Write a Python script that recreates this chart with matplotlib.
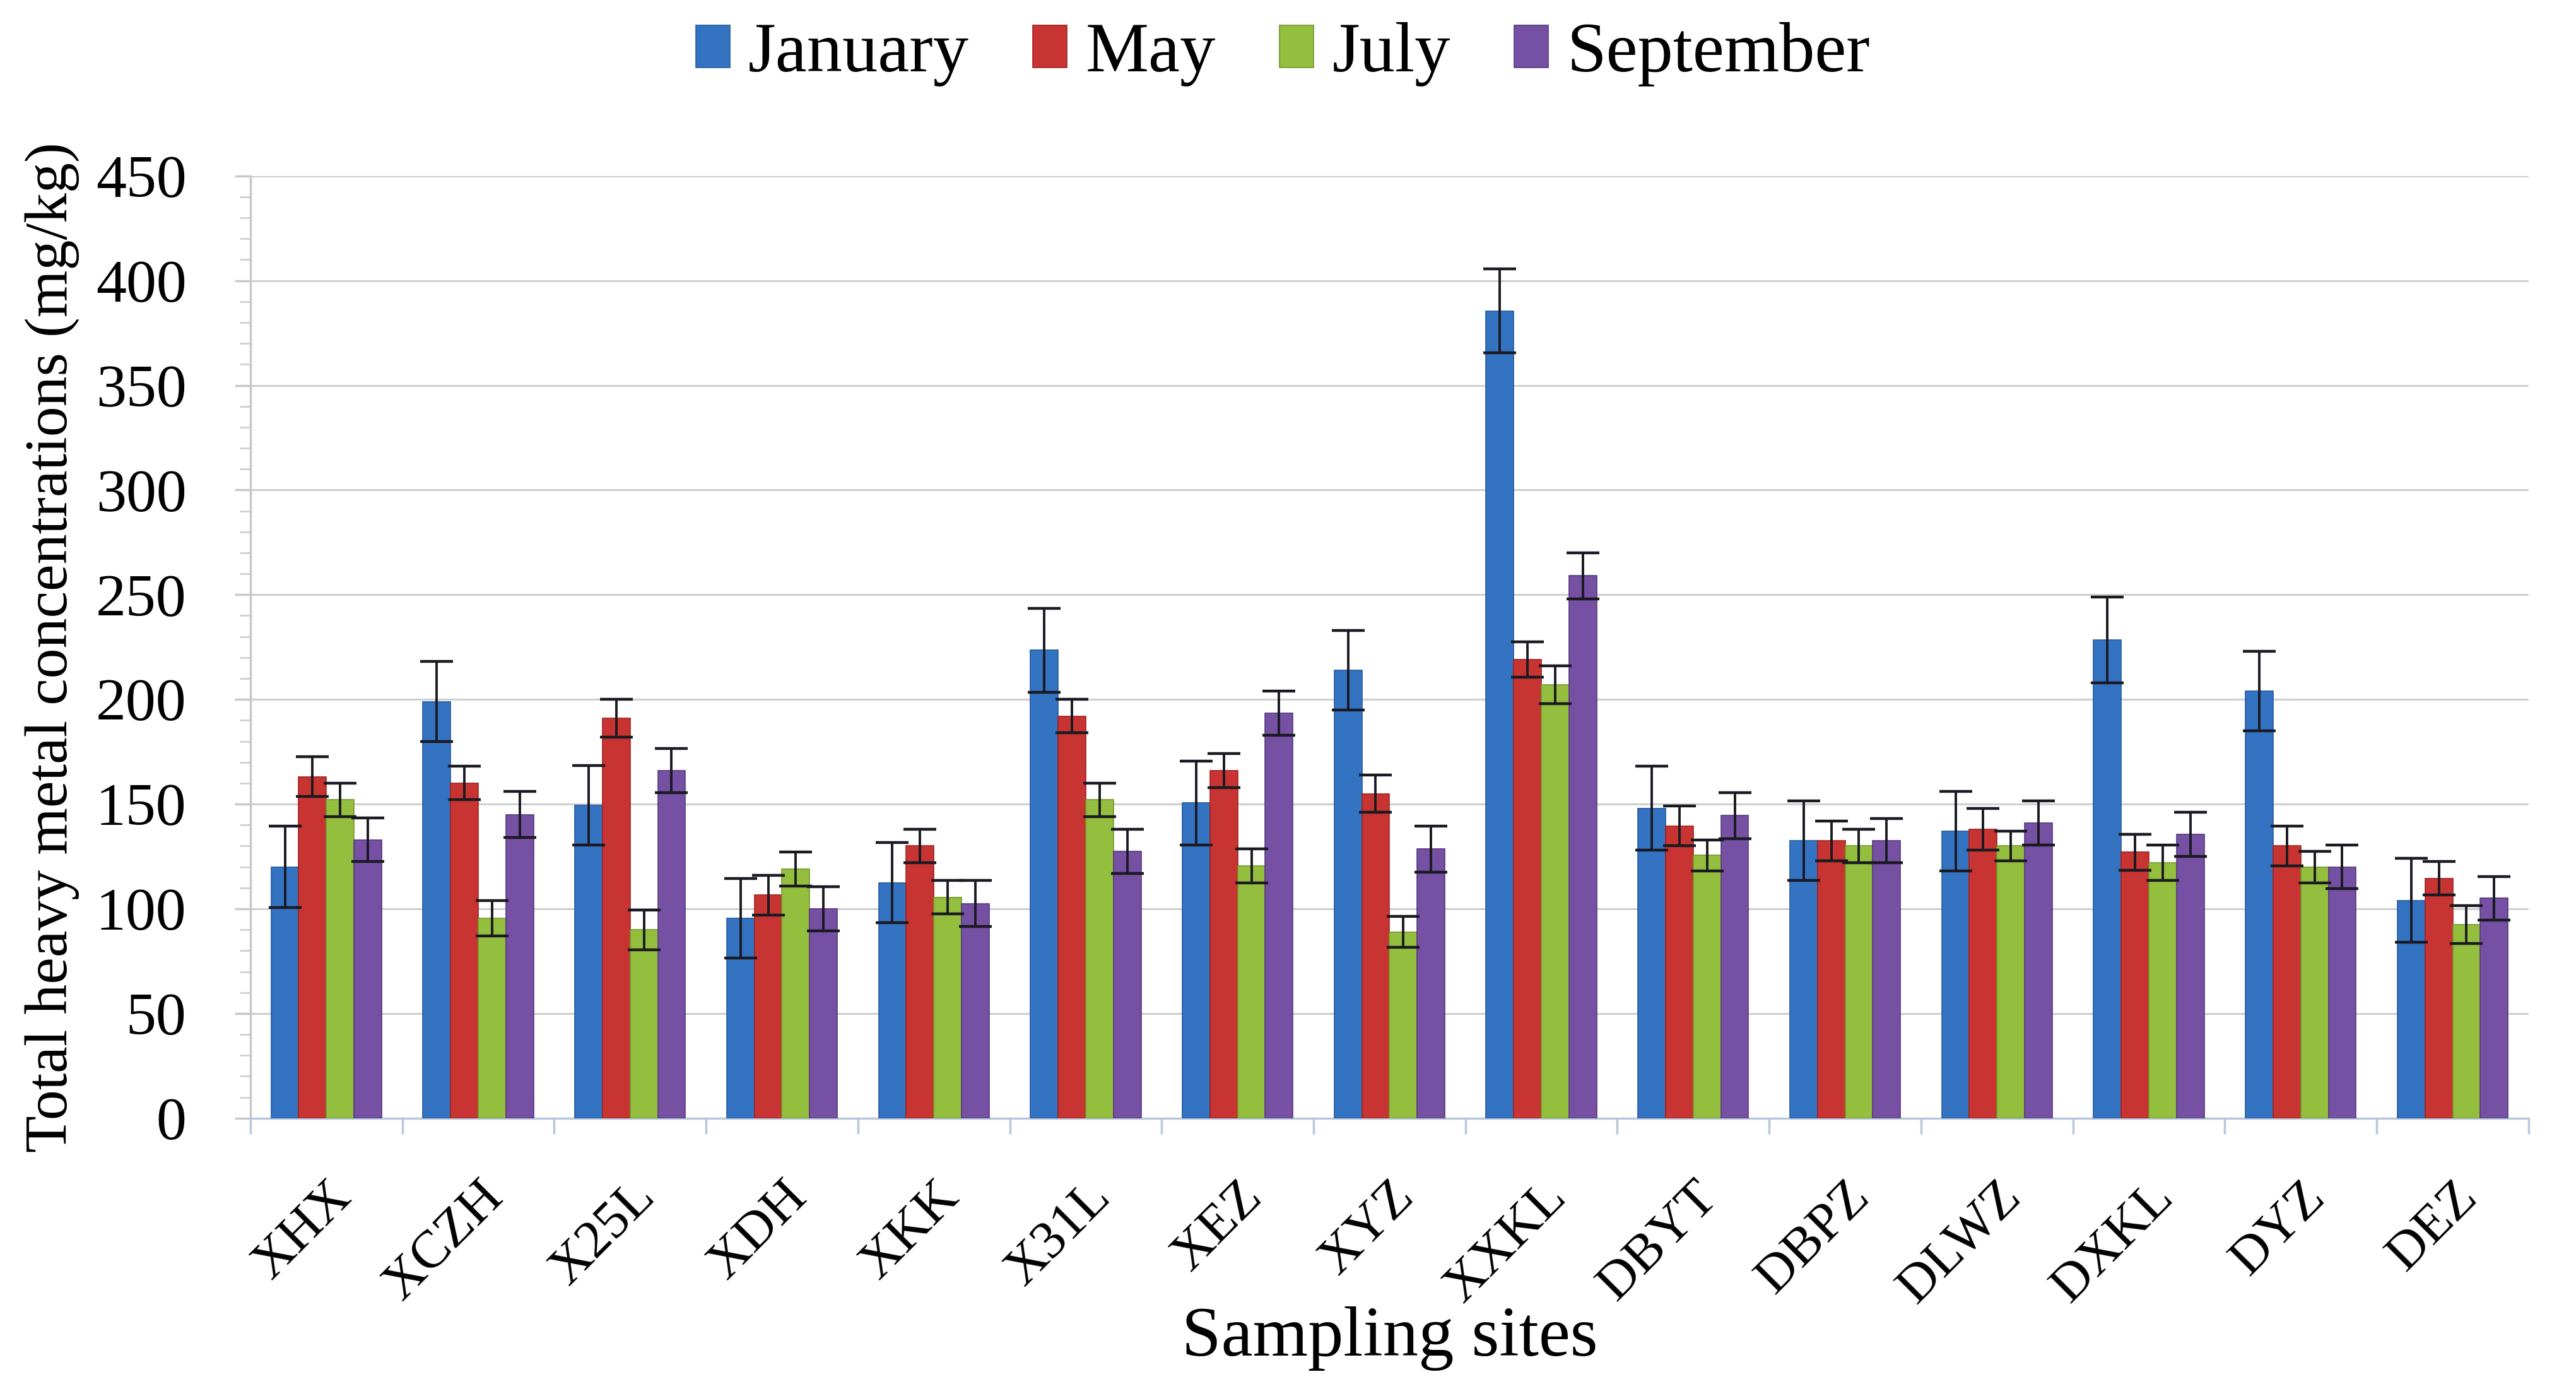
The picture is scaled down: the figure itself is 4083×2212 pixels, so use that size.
import numpy as np
import matplotlib
matplotlib.use("Agg")
import matplotlib.pyplot as plt
from matplotlib.ticker import MultipleLocator

sites = ["XHX", "XCZH", "X25L", "XDH", "XKK", "X31L", "XEZ", "XYZ", "XXKL",
         "DBYT", "DBPZ", "DLWZ", "DXKL", "DYZ", "DEZ"]
months = ["January", "May", "July", "September"]

jan = [120, 199, 149.5, 95.5, 112.5, 223.5, 150.5, 214, 385.5, 148, 132.5, 137, 228.5, 204, 104]
may = [163, 160, 191, 106.5, 130, 192, 166, 155, 219, 139.5, 132.5, 138, 127, 130, 114.5]
jul = [152, 95.5, 90, 119, 105.5, 152, 120.5, 89, 207, 125.5, 130, 130, 122, 120, 92.5]
sep = [133, 145, 166, 100, 102.5, 127.5, 193.5, 128.5, 259, 144.5, 132.5, 141, 135.5, 120, 105]

jan_err = [19.5, 19, 19, 19, 19, 20, 20, 19, 20, 20, 19, 19, 20.5, 19, 20]
may_err = [9.5, 8, 9, 9.5, 8, 8, 8, 9, 8.5, 9.5, 9.5, 10, 8.5, 9.5, 8]
jul_err = [8, 8.5, 9.5, 8, 8, 8, 8, 7.5, 9, 7.5, 8, 7, 8.5, 7.5, 9]
sep_err = [10.5, 11, 10.5, 10.5, 11, 10.5, 10.5, 11, 11, 11, 10.5, 10.5, 10.5, 10.5, 10.5]

values = [jan, may, jul, sep]
errors = [jan_err, may_err, jul_err, sep_err]
colors = ["#3473C2", "#C83431", "#94BE3E", "#7550A3"]
edges = ["#245A9E", "#A02422", "#74982C", "#563A7E"]

plt.rcParams['font.family'] = ['Liberation Serif', 'DejaVu Serif']

fig = plt.figure(figsize=(40.83, 22.12), dpi=100)
ax = fig.add_axes([0.0972, 0.199, 0.8844, 0.675])

x = np.arange(len(sites))
bw = 0.182
for i, (vals, errs, c, ec, m) in enumerate(zip(values, errors, colors, edges, months)):
    pos = x + (i - 1.5) * bw
    ax.bar(pos, vals, width=bw, color=c, edgecolor=ec, linewidth=1.2, label=m, zorder=3)
    ax.errorbar(pos, vals, yerr=errs, fmt='none', ecolor='#1a1a22',
                elinewidth=2.8, capsize=19, capthick=3.2, zorder=4)

ax.set_xlim(-0.5, len(sites) - 0.5)
ax.set_ylim(0, 450)
ax.yaxis.set_major_locator(MultipleLocator(50))
ax.yaxis.set_minor_locator(MultipleLocator(10))
ax.grid(axis='y', which='major', color='#cfcfcf', linewidth=2.2, zorder=0)

# category tick marks between groups
ax.set_xticks(np.arange(-0.5, len(sites) + 0.5, 1.0), minor=False)
ax.set_xticklabels([])
ax.set_xticks(x, minor=True)
ax.set_xticklabels(sites, minor=True, rotation=45, ha='right', va='top',
                   rotation_mode='anchor', fontsize=61)
ax.tick_params(axis='x', which='major', length=18, width=2.5, color='#b9c7dc', direction='out')
ax.tick_params(axis='x', which='minor', length=0, pad=62)
ax.tick_params(axis='y', which='major', length=18, width=2.5, color='#c8c8c8',
               labelsize=69, pad=55)
ax.tick_params(axis='y', which='minor', length=12, width=2, color='#d0d0d0')

for s in ['top', 'right']:
    ax.spines[s].set_visible(False)
ax.spines['left'].set_color('#c8c8c8')
ax.spines['left'].set_linewidth(2.5)
ax.spines['bottom'].set_color('#b9c7dc')
ax.spines['bottom'].set_linewidth(2.5)

ax.set_ylabel("Total heavy metal concentrations (mg/kg)", fontsize=69)
ax.yaxis.set_label_coords(-0.075, 0.5)
ax.set_xlabel("Sampling sites", fontsize=81)
ax.xaxis.set_label_coords(0.5, -0.2)

leg = fig.legend(loc='center', bbox_to_anchor=(0.498, 0.961), ncol=4, frameon=False,
                 fontsize=81, handlelength=0.48, handleheight=0.55,
                 handletextpad=0.26, columnspacing=0.9)

fig.savefig("out.png", dpi=100)
